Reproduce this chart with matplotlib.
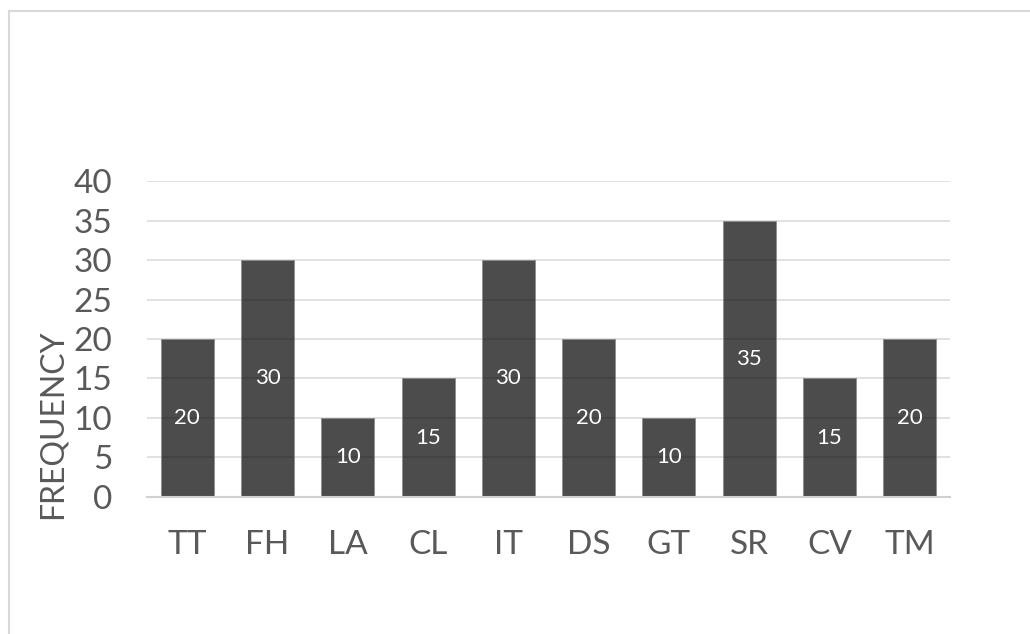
import matplotlib.pyplot as plt
from matplotlib.lines import Line2D

# data
categories = ["TT", "FH", "LA", "CL", "IT", "DS", "GT", "SR", "CV", "TM"]
frequency = [20, 30, 10, 15, 30, 20, 10, 35, 15, 20]
y_ticks = [0, 5, 10, 15, 20, 25, 30, 35, 40]

plt.rcParams['font.family'] = ['Lato', 'DejaVu Sans']
text_col = '#595959'

fig = plt.figure(figsize=(10.3, 6.34), dpi=100)
ax = fig.add_axes([0.1427, 0.2161, 0.7796, 0.4984])

ax.set_axisbelow(True)
ax.grid(axis='y', color='#dedede', linewidth=1.3)
x = range(len(categories))
bars = ax.bar(x, frequency, width=0.66, color=(0, 0, 0, 0.7),
              edgecolor='#8c8c8c', linewidth=0.6, zorder=2)

for i, v in enumerate(frequency):
    ax.text(i, v / 2, str(v), ha='center', va='center', color='white',
            fontsize=16, zorder=3)

ax.set_xlim(-0.5, len(categories) - 0.5)
ax.set_ylim(0, 40)
ax.set_yticks(y_ticks)
ax.set_xticks(list(x))
ax.set_xticklabels(categories)
ax.tick_params(axis='both', length=0, labelsize=24, labelcolor=text_col)
ax.tick_params(axis='x', pad=24)
ax.tick_params(axis='y', pad=25)

for s in ['top', 'right', 'left']:
    ax.spines[s].set_visible(False)
ax.spines['bottom'].set_color('#d0d0d0')
ax.spines['bottom'].set_linewidth(1.5)
ax.spines['bottom'].set_zorder(4)

fig.text(53 / 1030, 1 - 424 / 634, "FREQUENCY", rotation=90, ha='center',
         va='center', fontsize=23, color=text_col)

# outer frame (left and top edges only visible)
fig.add_artist(Line2D([8.5 / 1030, 8.5 / 1030], [0, 1 - 11 / 634],
                      transform=fig.transFigure, color='#d9d9d9', lw=1.5))
fig.add_artist(Line2D([8.5 / 1030, 1], [1 - 11 / 634, 1 - 11 / 634],
                      transform=fig.transFigure, color='#d9d9d9', lw=1.5))

fig.savefig('out.png', dpi=100)
